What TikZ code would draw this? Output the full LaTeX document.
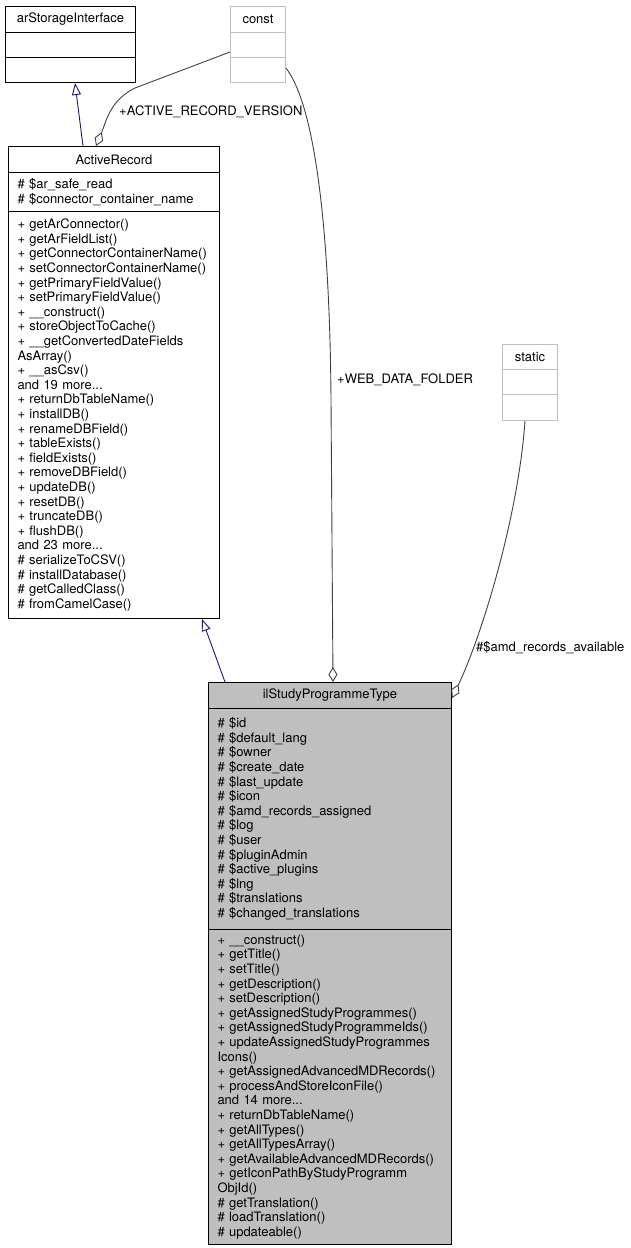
\documentclass[tikz,border=0pt]{standalone}
\usepackage{fontspec}
\setmainfont{TeX Gyre Heros}
\usetikzlibrary{arrows.meta}
\definecolor{edgeblue}{HTML}{191970}
\definecolor{edgegrey}{HTML}{404040}
\definecolor{boxgrey}{HTML}{BFBFBF}
\begin{document}
\begin{tikzpicture}[x=1pt,y=-1pt,
		cls/.style={draw,line width=1pt,anchor=north west,inner xsep=9pt,inner ysep=0pt,font=\fontsize{13}{14.6}\selectfont},
		mem/.style={cls,align=left},
		ext/.style={cls,draw=boxgrey},
		inherit/.style={draw=edgeblue,line width=0.9pt,-{Triangle[open,length=12pt,width=9pt]}},
		aggr/.style={draw=edgegrey,line width=0.9pt,{Diamond[open,length=15pt,width=9pt]}-},
		lbl/.style={anchor=west,inner sep=0pt,font=\fontsize{13}{14.6}\selectfont}]
			\useasboundingbox (0,0) rectangle (630,1248);
			\node	(arsT) at (5,6) [cls,minimum width=130,minimum height=26] {arStorageInterface};
			\node	(arsA) at (5,32) [cls,minimum width=130,minimum height=25] {};
			\node	(arsM) at (5,57) [cls,minimum width=130,minimum height=25] {};
			\node	(conT) at (230,6) [ext,minimum width=55,minimum height=26] {const};
			\node	(conA) at (230,32) [ext,minimum width=55,minimum height=25] {};
			\node	(conM) at (230,57) [ext,minimum width=55,minimum height=25] {};
			\node	(arT) at (8,146) [cls,minimum width=211,minimum height=26] {ActiveRecord};
			\node	(arA) at (8,172) [mem,text width=193,minimum height=39] {\# \$ar\_safe\_read\\\# \$connector\_container\_name};
			\node	(arM) at (8,211) [mem,text width=193,minimum height=407] {+ getArConnector()\\+ getArFieldList()\\+ getConnectorContainerName()\\+ setConnectorContainerName()\\+ getPrimaryFieldValue()\\+ setPrimaryFieldValue()\\+ \_\_construct()\\+ storeObjectToCache()\\+ \_\_getConvertedDateFields\\AsArray()\\+ \_\_asCsv()\\and 19 more...\\+ returnDbTableName()\\+ installDB()\\+ renameDBField()\\+ tableExists()\\+ fieldExists()\\+ removeDBField()\\+ updateDB()\\+ resetDB()\\+ truncateDB()\\+ flushDB()\\and 23 more...\\\# serializeToCSV()\\\# installDatabase()\\\# getCalledClass()\\\# fromCamelCase()};
			\node	(stT) at (502,344) [ext,minimum width=55,minimum height=25] {static};
			\node	(stA) at (502,369) [ext,minimum width=55,minimum height=25] {};
			\node	(stM) at (502,394) [ext,minimum width=55,minimum height=26] {};
			\node	(spT) at (208,682) [cls,fill=boxgrey,minimum width=243,minimum height=26] {ilStudyProgrammeType};
			\node	(spA) at (208,708) [mem,fill=boxgrey,text width=225,minimum height=221] {\# \$id\\\# \$default\_lang\\\# \$owner\\\# \$create\_date\\\# \$last\_update\\\# \$icon\\\# \$amd\_records\_assigned\\\# \$log\\\# \$user\\\# \$pluginAdmin\\\# \$active\_plugins\\\# \$lng\\\# \$translations\\\# \$changed\_translations};
			\node	(spM) at (208,929) [mem,fill=boxgrey,text width=225,minimum height=315] {+ \_\_construct()\\+ getTitle()\\+ setTitle()\\+ getDescription()\\+ setDescription()\\+ getAssignedStudyProgrammes()\\+ getAssignedStudyProgrammeIds()\\+ updateAssignedStudyProgrammes\\Icons()\\+ getAssignedAdvancedMDRecords()\\+ processAndStoreIconFile()\\and 14 more...\\+ returnDbTableName()\\+ getAllTypes()\\+ getAllTypesArray()\\+ getAvailableAdvancedMDRecords()\\+ getIconPathByStudyProgramm\\ObjId()\\\# getTranslation()\\\# loadTranslation()\\\# updateable()};
			\node	(lver) at (119,112) [lbl] {+ACTIVE\_RECORD\_VERSION};
			\node	(lweb) at (337,380) [lbl] {+WEB\_DATA\_FOLDER};
			\node	(lamd) at (476,648) [lbl] {\#\$amd\_records\_available};
			\draw 
			([xshift=75]arT.north west) edge[inherit] ([xshift=70]arsM.south west)
			([xshift=17]spT.north west) edge[inherit] ([xshift=194]arM.south west)
			;
			\draw[aggr] ([xshift=88]arT.north west) .. controls (106,122) and (110,100) .. (135,88) -- ([yshift=-20pt]conA.north west);
			\draw[aggr] ([xshift=125]spT.north west) -- (331,400) .. controls (330,250) and (318,110) .. ([yshift=-11pt]conM.north east);
			\draw[aggr] ([yshift=-16pt]spT.north east) .. controls (480,640) and (518,520) .. ([xshift=23]stM.south west);
		\end{tikzpicture}
\end{document}
